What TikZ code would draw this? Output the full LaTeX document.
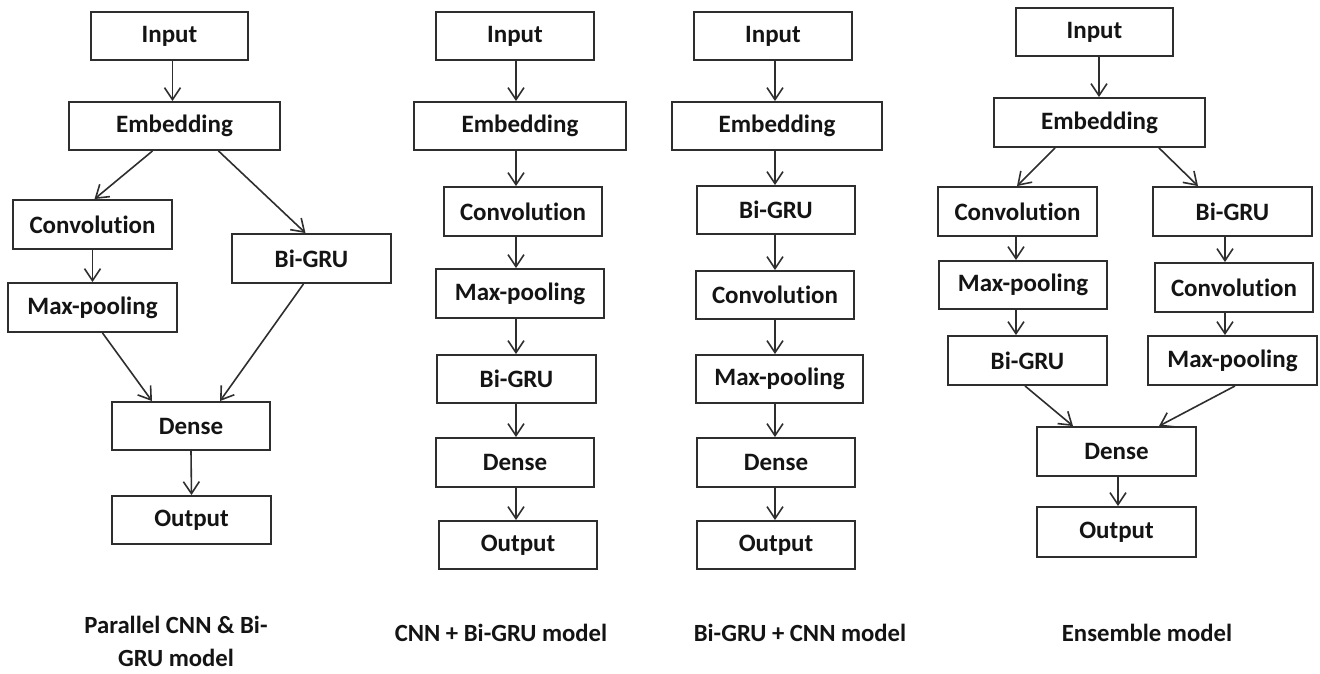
\documentclass[tikz,border=0pt]{standalone}
\usepackage{fontspec}
\setmainfont{Carlito}[Ligatures=NoCommon]
\usetikzlibrary{arrows.meta}
\definecolor{ink}{HTML}{141414}
\definecolor{edge}{HTML}{2E2E2E}
\tikzset{
  blk/.style={draw=edge, line width=1.9pt, fill=white, text=ink,
    font=\fontsize{25}{29}\selectfont\bfseries, inner sep=0pt},
  arr/.style={draw=edge, line width=1.6pt,
    -{Straight Barb[length=12pt,width=16pt]}},
  caption/.style={text=ink, font=\fontsize{24.7}{33}\selectfont\bfseries, align=center}
}
\begin{document}
\begin{tikzpicture}[x=1pt, y=-1pt]
\useasboundingbox (0,0) rectangle (1320,673);

% ---------- Parallel CNN & Bi-GRU ----------
\node[blk, minimum width=157, minimum height=48] (in1) at (169.5,36) {Input};
\node[blk, minimum width=211, minimum height=48] (em1) at (174.5,126) {Embedding};
\node[blk, minimum width=159, minimum height=49] (cv1) at (92.5,224.5) {Convolution};
\node[blk, minimum width=159, minimum height=49] (bg1) at (311.5,258.5) {Bi-GRU};
\node[blk, minimum width=169, minimum height=49] (mp1) at (92.5,307.5) {Max-pooling};
\node[blk, minimum width=158, minimum height=48] (de1) at (191,426) {Dense};
\node[blk, minimum width=159, minimum height=48] (ou1) at (191.5,520) {Output};
\node[caption] (cap1) at (176,641) {Parallel CNN \& Bi-\\GRU model};

\draw[arr] ([xshift=3]in1.south) -- ([xshift=-2]em1.north);
\draw[arr] ([xshift=-22]em1.south) -- ([xshift=2]cv1.north);
\draw[arr] ([xshift=44]em1.south) -- ([xshift=-6]bg1.north);
\draw[arr] (cv1.south) -- (mp1.north);
\draw[arr] ([xshift=10]mp1.south) -- ([xshift=-39]de1.north);
\draw[arr] ([xshift=-8]bg1.south) -- ([xshift=29]de1.north);
\draw[arr] (de1.south) -- (ou1.north);

% ---------- CNN + Bi-GRU ----------
\coordinate (a2) at (516,0);
\node[blk, minimum width=158, minimum height=48] (in2) at (515,36) {Input};
\node[blk, minimum width=212, minimum height=48] (em2) at (520,126) {Embedding};
\node[blk, minimum width=158, minimum height=49] (cv2) at (523,211.5) {Convolution};
\node[blk, minimum width=168, minimum height=49] (mp2) at (520,293.5) {Max-pooling};
\node[blk, minimum width=159, minimum height=48] (bg2) at (516.5,379) {Bi-GRU};
\node[blk, minimum width=158, minimum height=49] (de2) at (515,462.5) {Dense};
\node[blk, minimum width=158, minimum height=48] (ou2) at (518,545) {Output};
\node[caption] (cap2) at (501,633) {CNN + Bi-GRU model};

\draw[arr] (in2.south -| a2) -- (em2.north -| a2);
\draw[arr] (em2.south -| a2) -- (cv2.north -| a2);
\draw[arr] (cv2.south -| a2) -- (mp2.north -| a2);
\draw[arr] (mp2.south -| a2) -- (bg2.north -| a2);
\draw[arr] (bg2.south -| a2) -- (de2.north -| a2);
\draw[arr] (de2.south -| a2) -- (ou2.north -| a2);

% ---------- Bi-GRU + CNN ----------
\coordinate (a3) at (775,0);
\node[blk, minimum width=158, minimum height=48] (in3) at (773,36) {Input};
\node[blk, minimum width=210, minimum height=48] (em3) at (777,126) {Embedding};
\node[blk, minimum width=158, minimum height=48] (bg3) at (776,210) {Bi-GRU};
\node[blk, minimum width=158, minimum height=48] (cv3) at (775,295) {Convolution};
\node[blk, minimum width=167, minimum height=48] (mp3) at (779.5,379) {Max-pooling};
\node[blk, minimum width=158, minimum height=49] (de3) at (776,462.5) {Dense};
\node[blk, minimum width=158, minimum height=48] (ou3) at (776,545) {Output};
\node[caption] (cap3) at (800,633) {Bi-GRU + CNN model};

\draw[arr] (in3.south -| a3) -- (em3.north -| a3);
\draw[arr] (em3.south -| a3) -- (bg3.north -| a3);
\draw[arr] (bg3.south -| a3) -- (cv3.north -| a3);
\draw[arr] (cv3.south -| a3) -- (mp3.north -| a3);
\draw[arr] (mp3.south -| a3) -- (de3.north -| a3);
\draw[arr] (de3.south -| a3) -- (ou3.north -| a3);

% ---------- Ensemble ----------
\coordinate (l4) at (1016,0);
\coordinate (r4) at (1225,0);
\node[blk, minimum width=157, minimum height=48] (in4) at (1094.5,32) {Input};
\node[blk, minimum width=211, minimum height=49] (em4) at (1099.5,122.5) {Embedding};
\node[blk, minimum width=159, minimum height=49] (cv4) at (1017.5,211.5) {Convolution};
\node[blk, minimum width=159, minimum height=49] (bg4) at (1232.5,211.5) {Bi-GRU};
\node[blk, minimum width=168, minimum height=48] (mp4) at (1023,285) {Max-pooling};
\node[blk, minimum width=158, minimum height=49] (cr4) at (1234,287.5) {Convolution};
\node[blk, minimum width=159, minimum height=49] (bl4) at (1027.5,360.5) {Bi-GRU};
\node[blk, minimum width=169, minimum height=49] (mr4) at (1232.5,360.5) {Max-pooling};
\node[blk, minimum width=159, minimum height=49] (de4) at (1116.5,451.5) {Dense};
\node[blk, minimum width=159, minimum height=50] (ou4) at (1116.5,532) {Output};
\node[caption] (cap4) at (1147,633) {Ensemble model};

\draw[arr] ([xshift=4.5]in4.south) -- ([xshift=-0.5]em4.north);
\draw[arr] ([xshift=-44.5]em4.south) -- ([xshift=-0.5]cv4.north);
\draw[arr] ([xshift=59.5]em4.south) -- ([xshift=-34.5]bg4.north);
\draw[arr] (cv4.south -| l4) -- (mp4.north -| l4);
\draw[arr] (mp4.south -| l4) -- (bl4.north -| l4);
\draw[arr] (bg4.south -| r4) -- (cr4.north -| r4);
\draw[arr] (cr4.south -| r4) -- (mr4.north -| r4);
\draw[arr] ([xshift=-2.5]bl4.south) -- ([xshift=-43.5]de4.north);
\draw[arr] ([xshift=2.5]mr4.south) -- ([xshift=42.5]de4.north);
\draw[arr] ([xshift=1.5]de4.south) -- ([xshift=1.5]ou4.north);
\end{tikzpicture}
\end{document}
